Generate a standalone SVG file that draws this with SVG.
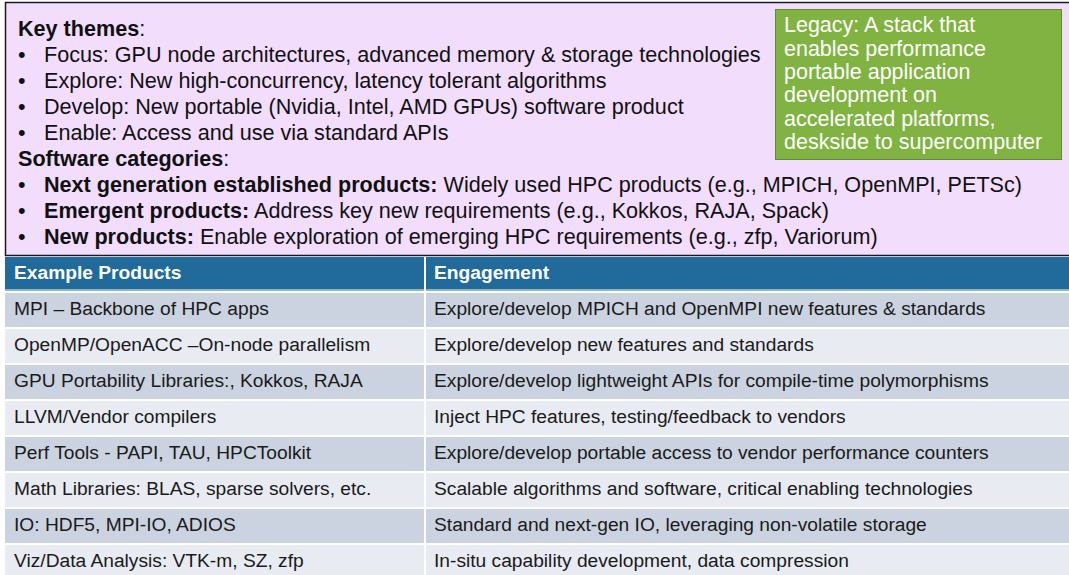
<svg xmlns="http://www.w3.org/2000/svg" width="1069" height="575" viewBox="0 0 1069 575">
<style>
text{font-family:"Liberation Sans",Arial,sans-serif;}
.t{font-size:21.6px;fill:#111;}
.g{font-size:21.5px;fill:#fff;}
.h{font-size:19.2px;fill:#fff;font-weight:bold;}
.c{font-size:19.2px;fill:#1a1a1a;}
.b{font-weight:bold;}
.r1{fill:#CBD3E0;}
.r2{fill:#E8EBF1;}
</style>
<rect width="1069" height="575" fill="#ffffff"/>
<g id="themes">
<rect x="5.5" y="2.5" width="1070" height="253" fill="#F2DDFC" stroke="#1a1a1a" stroke-width="1.5"/>
<text class="t" x="18" y="36"><tspan class="b">Key themes</tspan>:</text>
<text class="t" x="18" y="62">•</text><text class="t" x="44" y="62">Focus: GPU node architectures, advanced memory &amp; storage technologies</text>
<text class="t" x="18" y="88">•</text><text class="t" x="44" y="88">Explore: New high-concurrency, latency tolerant algorithms</text>
<text class="t" x="18" y="114">•</text><text class="t" x="44" y="114">Develop: New portable (Nvidia, Intel, AMD GPUs) software product</text>
<text class="t" x="18" y="140">•</text><text class="t" x="44" y="140">Enable: Access and use via standard APIs</text>
<text class="t" x="18" y="166"><tspan class="b">Software categories</tspan>:</text>
<text class="t" x="18" y="192">•</text><text class="t" x="44" y="192"><tspan class="b">Next generation established products:</tspan> Widely used HPC products (e.g., MPICH, OpenMPI, PETSc)</text>
<text class="t" x="18" y="218">•</text><text class="t" x="44" y="218"><tspan class="b">Emergent products:</tspan> Address key new requirements (e.g., Kokkos, RAJA, Spack)</text>
<text class="t" x="18" y="244">•</text><text class="t" x="44" y="244"><tspan class="b">New products:</tspan> Enable exploration of emerging HPC requirements (e.g., zfp, Variorum)</text>
</g>
<g id="legacy">
<rect x="775.5" y="9.5" width="286" height="150" fill="#80B341" stroke="#5E8F2E" stroke-width="1"/>
<text class="g" x="784" y="32">Legacy: A stack that</text>
<text class="g" x="784" y="55.5">enables performance</text>
<text class="g" x="784" y="79">portable application</text>
<text class="g" x="784" y="102">development on</text>
<text class="g" x="784" y="125.5">accelerated platforms,</text>
<text class="g" x="784" y="149">deskside to supercomputer</text>
</g>
<g id="table">
<rect x="5" y="257" width="1064" height="32" fill="#216A9C"/>
<rect x="5" y="289" width="1064" height="2" fill="#8FB3CE"/>
<text class="h" x="14" y="279">Example Products</text>
<text class="h" x="434" y="279">Engagement</text>
<rect class="r1" x="5" y="293" width="1064" height="34"/>
<rect class="r2" x="5" y="329" width="1064" height="34"/>
<rect class="r1" x="5" y="365" width="1064" height="34"/>
<rect class="r2" x="5" y="401" width="1064" height="34"/>
<rect class="r1" x="5" y="437" width="1064" height="34"/>
<rect class="r2" x="5" y="473" width="1064" height="34"/>
<rect class="r1" x="5" y="509" width="1064" height="34"/>
<rect class="r2" x="5" y="545" width="1064" height="34"/>
<rect x="424" y="257" width="2" height="318" fill="#ffffff"/>
<text class="c" x="14" y="315">MPI – Backbone of HPC apps</text>
<text class="c" x="434" y="315">Explore/develop MPICH and OpenMPI new features &amp; standards</text>
<text class="c" x="14" y="351">OpenMP/OpenACC –On-node parallelism</text>
<text class="c" x="434" y="351">Explore/develop new features and standards</text>
<text class="c" x="14" y="387">GPU Portability Libraries:, Kokkos, RAJA</text>
<text class="c" x="434" y="387">Explore/develop lightweight APIs for compile-time polymorphisms</text>
<text class="c" x="14" y="423">LLVM/Vendor compilers</text>
<text class="c" x="434" y="423">Inject HPC features, testing/feedback to vendors</text>
<text class="c" x="14" y="459">Perf Tools - PAPI, TAU, HPCToolkit</text>
<text class="c" x="434" y="459">Explore/develop portable access to vendor performance counters</text>
<text class="c" x="14" y="495">Math Libraries: BLAS, sparse solvers, etc.</text>
<text class="c" x="434" y="495">Scalable algorithms and software, critical enabling technologies</text>
<text class="c" x="14" y="531">IO: HDF5, MPI-IO, ADIOS</text>
<text class="c" x="434" y="531">Standard and next-gen IO, leveraging non-volatile storage</text>
<text class="c" x="14" y="567">Viz/Data Analysis: VTK-m, SZ, zfp</text>
<text class="c" x="434" y="567">In-situ capability development, data compression</text>
</g>
</svg>
